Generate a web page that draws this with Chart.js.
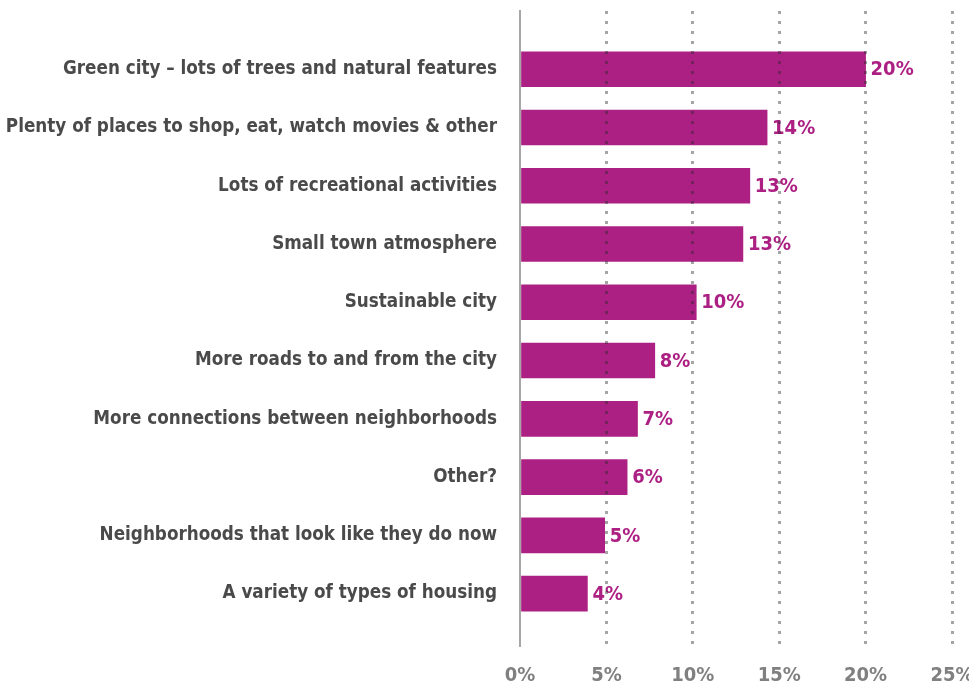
<!DOCTYPE html>
<html>
<head>
<meta charset="utf-8">
<script src="https://cdn.jsdelivr.net/npm/chart.js@4"></script>
<style>
    html, body { margin: 0; padding: 0; background: #fff; overflow: hidden; }
    #wrap { width: 969px; height: 686px; position: relative; }
</style>
</head>
<body>
<div id="wrap"><canvas id="chart"></canvas></div>
<script>
// Chart data
const categories = [
    'Green city \u2013 lots of trees and natural features',
    'Plenty of places to shop, eat, watch movies & other',
    'Lots of recreational activities',
    'Small town atmosphere',
    'Sustainable city',
    'More roads to and from the city',
    'More connections between neighborhoods',
    'Other?',
    'Neighborhoods that look like they do now',
    'A variety of types of housing'
];
const shares = [20.0, 14.3, 13.3, 12.9, 10.2, 7.8, 6.8, 6.2, 4.9, 3.9];
const shareLabels = ['20%', '14%', '13%', '13%', '10%', '8%', '7%', '6%', '5%', '4%'];
const xTicks = [0, 5, 10, 15, 20, 25];

const FONT = '"Liberation Sans Narrow", "DejaVu Sans Condensed", "Roboto Condensed", sans-serif';
const PURPLE = '#AD2083';

// draws the % labels just right of each bar
const valueLabels = {
    id: 'valueLabels',
    afterDatasetsDraw(chart) {
        const ctx = chart.ctx;
        const meta = chart.getDatasetMeta(0);
        ctx.save();
        ctx.font = 'bold 20px ' + FONT;
        ctx.fillStyle = PURPLE;
        ctx.textAlign = 'left';
        ctx.textBaseline = 'middle';
        meta.data.forEach((bar, i) => {
            ctx.fillText(shareLabels[i], bar.x + 5, bar.y + 1);
        });
        ctx.restore();
    }
};

const ctx = document.getElementById('chart').getContext('2d');
window.surveyChart = new Chart(ctx, {
    type: 'bar',
    data: {
        datasets: [{
            data: shares.map((v, i) => ({ x: v, y: i })),
            backgroundColor: PURPLE,
            barThickness: 35,
            borderWidth: 0
        }]
    },
    options: {
        indexAxis: 'y',
        responsive: true,
        maintainAspectRatio: false,
        animation: false,
        layout: { padding: { top: 11, right: 17, left: 0, bottom: 0 } },
        plugins: {
            legend: { display: false },
            tooltip: { enabled: false }
        },
        scales: {
            x: {
                type: 'linear',
                min: 0,
                max: 25,
                afterFit(scale) {
                    scale.paddingRight = 0;
                    scale.paddingLeft = 0;
                    scale.height = 40;
                },
                afterBuildTicks(scale) {
                    scale.ticks = xTicks.map(v => ({ value: v }));
                },
                ticks: {
                    padding: 18,
                    color: '#808080',
                    font: { family: FONT, size: 20, weight: 'bold' },
                    callback: v => v + '%'
                },
                // dotted gridlines drawn on top of the bars
                grid: {
                    z: 1,
                    drawTicks: false,
                    lineWidth: 3,
                    color: c => c.tick && c.tick.value === 0 ? 'rgba(0,0,0,0)' : 'rgba(40,40,40,0.42)'
                },
                border: { display: false, dash: [3, 7], dashOffset: 0 }
            },
            y: {
                type: 'linear',
                reverse: true,
                offset: false,
                min: -1,
                max: 9.9,
                afterFit(scale) {
                    scale.width = 520;
                    scale.paddingTop = 0;
                    scale.paddingBottom = 0;
                },
                afterBuildTicks(scale) {
                    scale.ticks = categories.map((c, i) => ({ value: i }));
                },
                ticks: {
                    padding: 23,
                    color: '#4a4a4a',
                    font: { family: FONT, size: 18.7, weight: 'bold' },
                    callback: v => categories[v] || ''
                },
                grid: { display: false, drawTicks: false, offset: false },
                border: { display: true, color: '#a6a6a6', width: 2 }
            }
        }
    },
    plugins: [valueLabels]
});
</script>
</body>
</html>
